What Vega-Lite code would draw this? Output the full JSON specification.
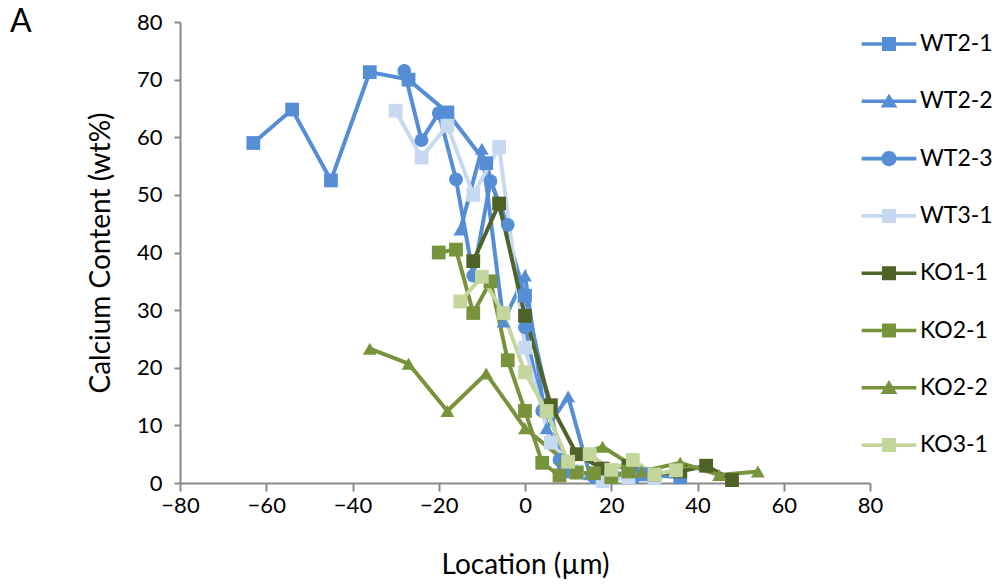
{
  "$schema": "https://vega.github.io/schema/vega-lite/v6.json",
  "width": 690,
  "height": 461,
  "autosize": {"type": "none"},
  "padding": {"left": 180, "top": 22, "right": 122, "bottom": 103},
  "background": "white",
  "config": {
    "font": "Lato",
    "view": {"stroke": null},
    "axis": {
      "grid": false,
      "domainColor": "#898989",
      "domainWidth": 2,
      "tickColor": "#898989",
      "tickWidth": 2,
      "labelColor": "#000000",
      "labelFontSize": 22,
      "titleFontSize": 28,
      "titleFontWeight": "normal",
      "titleColor": "#000000"
    }
  },
  "title": {"text": "A", "anchor": "start", "frame": "group", "dx": -170, "offset": -53, "baseline": "alphabetic", "fontSize": 32, "fontWeight": "normal", "color": "#000000"},
  "data": {
    "values": [
      {"series": "WT2-1", "x": -63, "y": 59},
      {"series": "WT2-1", "x": -54, "y": 64.8},
      {"series": "WT2-1", "x": -45, "y": 52.5},
      {"series": "WT2-1", "x": -36, "y": 71.3},
      {"series": "WT2-1", "x": -27, "y": 70},
      {"series": "WT2-1", "x": -18, "y": 64.3},
      {"series": "WT2-1", "x": -9, "y": 55.5},
      {"series": "WT2-1", "x": 0, "y": 32.5},
      {"series": "WT2-1", "x": 9, "y": 2},
      {"series": "WT2-1", "x": 18, "y": 1},
      {"series": "WT2-1", "x": 27, "y": 1.5},
      {"series": "WT2-1", "x": 36, "y": 1},
      {"series": "WT2-2", "x": -15, "y": 44},
      {"series": "WT2-2", "x": -10, "y": 58},
      {"series": "WT2-2", "x": -5, "y": 28},
      {"series": "WT2-2", "x": 0, "y": 36},
      {"series": "WT2-2", "x": 5, "y": 9.5},
      {"series": "WT2-2", "x": 10, "y": 15},
      {"series": "WT2-2", "x": 15, "y": 1.5},
      {"series": "WT2-2", "x": 20, "y": 2},
      {"series": "WT2-2", "x": 25, "y": 1},
      {"series": "WT2-2", "x": 30, "y": 1.5},
      {"series": "WT2-3", "x": -28, "y": 71.5},
      {"series": "WT2-3", "x": -24, "y": 59.5},
      {"series": "WT2-3", "x": -20, "y": 64.2},
      {"series": "WT2-3", "x": -16, "y": 52.7},
      {"series": "WT2-3", "x": -12, "y": 36},
      {"series": "WT2-3", "x": -8, "y": 52.4},
      {"series": "WT2-3", "x": -4, "y": 44.8},
      {"series": "WT2-3", "x": 0, "y": 27},
      {"series": "WT2-3", "x": 4, "y": 12.5},
      {"series": "WT2-3", "x": 8, "y": 4},
      {"series": "WT2-3", "x": 12, "y": 2},
      {"series": "WT2-3", "x": 16, "y": 1},
      {"series": "WT2-3", "x": 20, "y": 1.5},
      {"series": "WT2-3", "x": 24, "y": 1},
      {"series": "WT3-1", "x": -30, "y": 64.6},
      {"series": "WT3-1", "x": -24, "y": 56.5},
      {"series": "WT3-1", "x": -18, "y": 62},
      {"series": "WT3-1", "x": -12, "y": 50},
      {"series": "WT3-1", "x": -6, "y": 58.3},
      {"series": "WT3-1", "x": 0, "y": 23.5},
      {"series": "WT3-1", "x": 6, "y": 7},
      {"series": "WT3-1", "x": 12, "y": 2},
      {"series": "WT3-1", "x": 18, "y": 0.3},
      {"series": "WT3-1", "x": 24, "y": 1},
      {"series": "WT3-1", "x": 30, "y": 0.8},
      {"series": "KO1-1", "x": -12, "y": 38.5},
      {"series": "KO1-1", "x": -6, "y": 48.5},
      {"series": "KO1-1", "x": 0, "y": 29},
      {"series": "KO1-1", "x": 6, "y": 13.5},
      {"series": "KO1-1", "x": 12, "y": 5},
      {"series": "KO1-1", "x": 18, "y": 2.5},
      {"series": "KO1-1", "x": 24, "y": 3},
      {"series": "KO1-1", "x": 30, "y": 1.5},
      {"series": "KO1-1", "x": 36, "y": 2},
      {"series": "KO1-1", "x": 42, "y": 3},
      {"series": "KO1-1", "x": 48, "y": 0.5},
      {"series": "KO2-1", "x": -20, "y": 40},
      {"series": "KO2-1", "x": -16, "y": 40.5},
      {"series": "KO2-1", "x": -12, "y": 29.5},
      {"series": "KO2-1", "x": -8, "y": 35},
      {"series": "KO2-1", "x": -4, "y": 21.3},
      {"series": "KO2-1", "x": 0, "y": 12.5},
      {"series": "KO2-1", "x": 4, "y": 3.5},
      {"series": "KO2-1", "x": 8, "y": 1.3},
      {"series": "KO2-1", "x": 12, "y": 1.8},
      {"series": "KO2-1", "x": 16, "y": 1.7},
      {"series": "KO2-1", "x": 20, "y": 1},
      {"series": "KO2-1", "x": 24, "y": 2},
      {"series": "KO2-2", "x": -36, "y": 23.3},
      {"series": "KO2-2", "x": -27, "y": 20.7},
      {"series": "KO2-2", "x": -18, "y": 12.5},
      {"series": "KO2-2", "x": -9, "y": 19},
      {"series": "KO2-2", "x": 0, "y": 9.5},
      {"series": "KO2-2", "x": 9, "y": 4},
      {"series": "KO2-2", "x": 18, "y": 6.3},
      {"series": "KO2-2", "x": 27, "y": 2},
      {"series": "KO2-2", "x": 36, "y": 3.5},
      {"series": "KO2-2", "x": 45, "y": 1.4},
      {"series": "KO2-2", "x": 54, "y": 2},
      {"series": "KO3-1", "x": -15, "y": 31.5},
      {"series": "KO3-1", "x": -10, "y": 35.8},
      {"series": "KO3-1", "x": -5, "y": 29.5},
      {"series": "KO3-1", "x": 0, "y": 19.2},
      {"series": "KO3-1", "x": 5, "y": 12.5},
      {"series": "KO3-1", "x": 10, "y": 3.7},
      {"series": "KO3-1", "x": 15, "y": 5},
      {"series": "KO3-1", "x": 20, "y": 2.3},
      {"series": "KO3-1", "x": 25, "y": 4},
      {"series": "KO3-1", "x": 30, "y": 1.5},
      {"series": "KO3-1", "x": 35, "y": 2.2}
    ]
  },
  "encoding": {
    "x": {"field": "x", "type": "quantitative", "scale": {"domain": [-80, 80], "nice": false, "zero": false},
      "axis": {"values": [-80, -60, -40, -20, 0, 20, 40, 60, 80], "title": "Location (µm)", "tickSize": 8, "labelPadding": 4, "titlePadding": 35, "labelFlush": false}},
    "y": {"field": "y", "type": "quantitative", "scale": {"domain": [0, 80], "nice": false},
      "axis": {"values": [0, 10, 20, 30, 40, 50, 60, 70, 80], "title": "Calcium Content (wt%)", "tickSize": 6, "labelPadding": 12, "titlePadding": 21, "labelFlush": false}}
  },
  "layer": [
    {
      "mark": {"type": "line", "strokeWidth": 4},
      "encoding": {
        "color": {"field": "series", "type": "nominal", "legend": null,
          "scale": {"domain": ["WT2-1", "WT2-2", "WT2-3", "WT3-1", "KO1-1", "KO2-1", "KO2-2", "KO3-1"],
            "range": ["#558ED5", "#558ED5", "#558ED5", "#C6D9F1", "#4F6228", "#77933C", "#77933C", "#C3D69B"]}}
      }
    },
    {
      "mark": {"type": "point", "filled": true, "opacity": 1, "strokeWidth": 0},
      "encoding": {
        "color": {"field": "series", "type": "nominal", "legend": null,
          "scale": {"domain": ["WT2-1", "WT2-2", "WT2-3", "WT3-1", "KO1-1", "KO2-1", "KO2-2", "KO3-1"],
            "range": ["#558ED5", "#558ED5", "#558ED5", "#C6D9F1", "#4F6228", "#77933C", "#77933C", "#C3D69B"]}},
        "shape": {"field": "series", "type": "nominal", "legend": null,
          "scale": {"domain": ["WT2-1", "WT2-2", "WT2-3", "WT3-1", "KO1-1", "KO2-1", "KO2-2", "KO3-1"],
            "range": ["square", "triangle-up", "circle", "square", "square", "square", "triangle-up", "square"]}},
        "size": {"value": 190}
      }
    },
    {
      "transform": [{"filter": "false"}],
      "mark": {"type": "point", "filled": true, "opacity": 1, "strokeWidth": 0},
      "encoding": {
        "color": {"field": "series", "type": "nominal",
          "scale": {"domain": ["WT2-1", "WT2-2", "WT2-3", "WT3-1", "KO1-1", "KO2-1", "KO2-2", "KO3-1"],
            "range": ["#558ED5", "#558ED5", "#558ED5", "#C6D9F1", "#4F6228", "#77933C", "#77933C", "#C3D69B"]},
          "legend": {"title": null, "orient": "none", "legendX": 695, "legendY": 8, "symbolSize": 784, "symbolStrokeWidth": 0, "symbolOpacity": 1, "labelFontSize": 23, "labelColor": "#000000", "labelOffset": 17, "rowPadding": 31.3, "padding": 0}},
        "shape": {"field": "series", "type": "nominal",
          "scale": {"domain": ["WT2-1", "WT2-2", "WT2-3", "WT3-1", "KO1-1", "KO2-1", "KO2-2", "KO3-1"],
            "range": [
              "M-1.95,-0.13H1.95V0.13H-1.95Z M-0.5,-0.5H0.5V0.5H-0.5Z",
              "M-1.95,-0.13H1.95V0.13H-1.95Z M0,-0.55L0.6,0.45H-0.6Z",
              "M-1.95,-0.13H1.95V0.13H-1.95Z M0.55,0A0.55,0.55 0 1,1 -0.55,0A0.55,0.55 0 1,1 0.55,0Z",
              "M-1.95,-0.13H1.95V0.13H-1.95Z M-0.5,-0.5H0.5V0.5H-0.5Z",
              "M-1.95,-0.13H1.95V0.13H-1.95Z M-0.5,-0.5H0.5V0.5H-0.5Z",
              "M-1.95,-0.13H1.95V0.13H-1.95Z M-0.5,-0.5H0.5V0.5H-0.5Z",
              "M-1.95,-0.13H1.95V0.13H-1.95Z M0,-0.55L0.6,0.45H-0.6Z",
              "M-1.95,-0.13H1.95V0.13H-1.95Z M-0.5,-0.5H0.5V0.5H-0.5Z"
            ]},
          "legend": {"title": null, "orient": "none", "legendX": 695, "legendY": 8, "symbolSize": 784, "symbolStrokeWidth": 0, "symbolOpacity": 1, "labelFontSize": 23, "labelColor": "#000000", "labelOffset": 17, "rowPadding": 31.3, "padding": 0}}
      }
    }
  ],
  "resolve": {"scale": {"color": "independent", "shape": "independent"}}
}
